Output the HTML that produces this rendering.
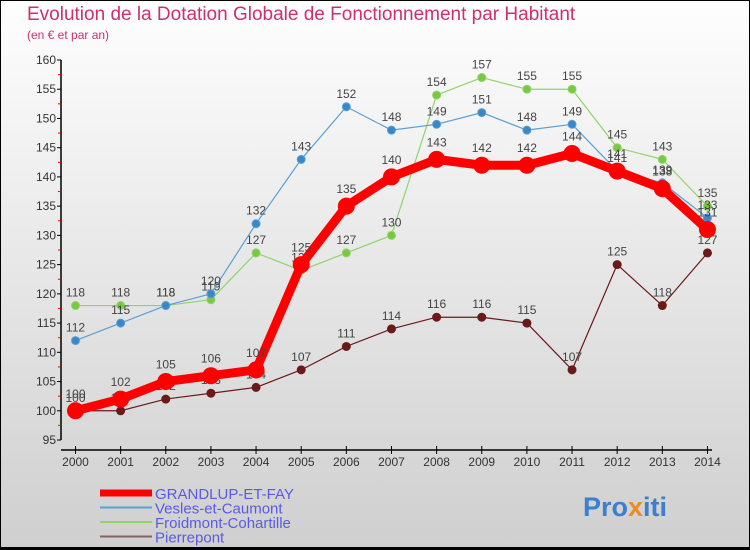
<!DOCTYPE html>
<html><head><meta charset="utf-8"><style>
body{margin:0}
#c{width:750px;height:550px;position:relative;font-family:"Liberation Sans",sans-serif;background:linear-gradient(#fefefe,#cfcfcf);box-sizing:border-box;border:1px solid #000;border-bottom:3px solid #000;overflow:hidden}
.t{position:absolute;left:26px;top:3px;font-size:19px;color:#d0306a}
.s{position:absolute;left:26px;top:27px;font-size:12px;color:#d0306a}
</style></head><body>
<div id="c">
<div class="t">Evolution de la Dotation Globale de Fonctionnement par Habitant</div>
<div class="s">(en € et par an)</div>
<svg id="svg" width="750" height="550" style="position:absolute;left:-1px;top:-1px"></svg>
</div>
<script>
const years=[2000,2001,2002,2003,2004,2005,2006,2007,2008,2009,2010,2011,2012,2013,2014];
const grandlup=[100,102,105,106,107,125,135,140,143,142,142,144,141,138,131];
const vesles=[112,115,118,120,132,143,152,148,149,151,148,149,141,139,133];
const froidmont=[118,118,118,119,127,124,127,130,154,157,155,155,145,143,135];
const pierrepont=[100,100,102,103,104,107,111,114,116,116,115,107,125,118,127];
const yTicks=[95,100,105,110,115,120,125,130,135,140,145,150,155,160];
const NS="http://www.w3.org/2000/svg";
const svg=document.getElementById('svg');
const x=i=>75.5+i*45.14;
const y=v=>440-(v-95)*(380/65);
function el(t,a,p){const e=document.createElementNS(NS,t);for(const k in a)e.setAttribute(k,a[k]);(p||svg).appendChild(e);return e;}
// axes
let ax=el('line',{x1:61,y1:60,x2:61,y2:440,stroke:'#000','stroke-width':1.5});


let ax2=el('line',{x1:61,y1:450,x2:712,y2:450,stroke:'#000','stroke-width':1.5});


yTicks.forEach((v,i)=>{
  el('line',{x1:57,y1:y(v),x2:61,y2:y(v),stroke:'#000'});
  if(i<yTicks.length-1)el('line',{x1:58,y1:y(v+2.5),x2:61,y2:y(v+2.5),stroke:'#e00'});
  const t=el('text',{x:56,y:y(v)+4,'text-anchor':'end','font-size':12,fill:'#333'});
  t.textContent=v;
  
  
});
years.forEach((yr,i)=>{
  el('line',{x1:x(i),y1:446,x2:x(i),y2:454,stroke:'#000'});
  const t=el('text',{x:x(i),y:466,'text-anchor':'middle','font-size':12,fill:'#333'});
  t.textContent=yr;
  
  
});
function series(data,color,w,r,dot,name){
  const g=el('g',{});
  
  
  el('polyline',{points:data.map((v,i)=>x(i)+','+y(v)).join(' '),fill:'none',stroke:color,'stroke-width':w,'stroke-linejoin':'round'},g);
  data.forEach((v,i)=>{
    const c=el('circle',{cx:x(i),cy:y(v),r:r,fill:dot,stroke:color,'stroke-width':1},g);
    
    
    const t=el('text',{x:x(i),y:y(v)-9-(r>5?4:0),'text-anchor':'middle','font-size':12,fill:'#444'},g);
    t.textContent=v;
  });
}
series(pierrepont,'#6b1a1a',1.2,4,'#6b1a1a','series-pierrepont');
series(froidmont,'#8fd46a',1.2,4,'#78c840','series-froidmont-cohartille');
series(vesles,'#5a9fd4',1.2,4,'#3a87c8','series-vesles-et-caumont');
series(grandlup,'#f00',9,8,'#f00','series-grandlup-et-fay');
// legend
const leg=[['GRANDLUP-ET-FAY','#f00',7],['Vesles-et-Caumont','#5a9fd4',2],['Froidmont-Cohartille','#8fd46a',2],['Pierrepont','#8a6060',2]];
leg.forEach((l,i)=>{
  const yy=493+i*14.5;
  const g=el('g',{});
  
  
  el('line',{x1:100,y1:yy,x2:152,y2:yy,stroke:l[1],'stroke-width':l[2]},g);
  const t=el('text',{x:155,y:yy+6,'font-size':15,fill:'#5a5ae8'},g);
  t.textContent=l[0];
});
const p=el('text',{x:583,y:516,'font-size':27,'font-weight':'bold',fill:'#f08a20'});


p.innerHTML='<tspan fill="#3a7fd0">Pro</tspan><tspan fill="#f08a20">x</tspan><tspan fill="#3a7fd0">iti</tspan>';
</script>
</body></html>
